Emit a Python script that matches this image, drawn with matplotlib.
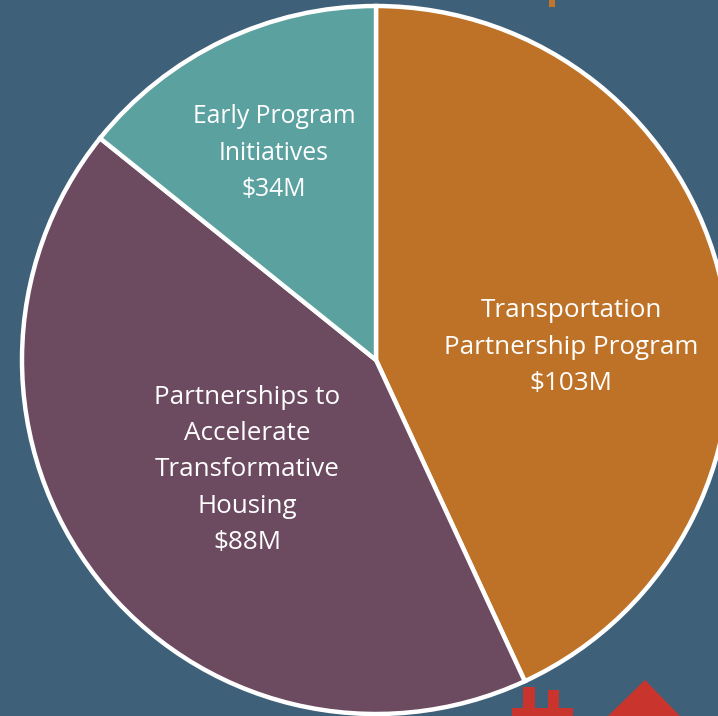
import matplotlib
matplotlib.use("Agg")
import matplotlib.pyplot as plt
from matplotlib.patches import Polygon, Rectangle

labels = ["Transportation\nPartnership Program\n$103M",
          "Partnerships to\nAccelerate\nTransformative\nHousing\n$88M",
          "Early Program\nInitiatives\n$34M"]
values = [103, 102, 34]
colors = ["#BE7228", "#6C4A60", "#5AA19F"]
label_pos = [(571, 347), (247, 470), (274, 153)]
label_size = [18.7, 18.7, 17.8]

bg = "#3F6079"
W, H = 718, 716
plt.rcParams['font.family'] = ['Open Sans', 'DejaVu Sans']

fig = plt.figure(figsize=(W / 100, H / 100), dpi=100, facecolor=bg)
ax = fig.add_axes([0, 0, 1, 1])

# decoration at the edges of the crop
red = "#C9352C"
ax.add_patch(Rectangle((549, 0), 6, 7, color="#C2742A", lw=0))
ax.add_patch(Polygon([(608, 716), (645, 680), (680, 716)], color=red, lw=0))
ax.add_patch(Rectangle((512, 708), 61, 8, color=red, lw=0))
ax.add_patch(Rectangle((523, 687), 12, 21, color=red, lw=0))
ax.add_patch(Rectangle((548, 690), 11, 18, color=red, lw=0))

# y axis is flipped, so counterclock=True runs clockwise on screen
wedges, _ = ax.pie(values, colors=colors, startangle=-90, counterclock=True,
                   center=(376, 360), radius=354, frame=True,
                   wedgeprops={"edgecolor": "white", "linewidth": 3.2})
ax.set_xlim(0, W)
ax.set_ylim(H, 0)
ax.set_aspect("auto")
ax.axis("off")

for lab, pos, size in zip(labels, label_pos, label_size):
    ax.text(pos[0], pos[1], lab, color="white", fontsize=size, ha="center",
            va="center", linespacing=1.6)

fig.savefig("out.png", dpi=100, facecolor=bg)
